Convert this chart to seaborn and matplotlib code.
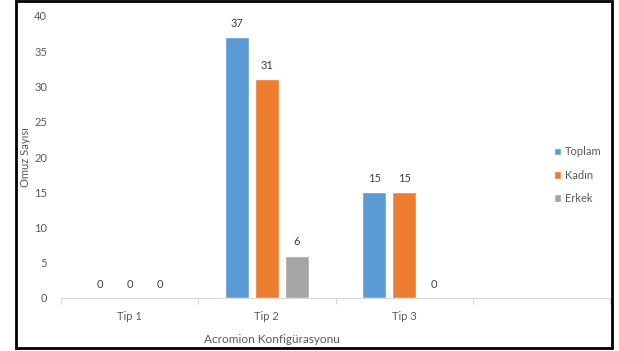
import matplotlib
matplotlib.use("Agg")
import matplotlib.pyplot as plt
import seaborn as sns
import pandas as pd
from matplotlib.patches import Rectangle
from matplotlib.ticker import FixedLocator

categories = ["Tip 1", "Tip 2", "Tip 3"]
series = ["Toplam", "Kadın", "Erkek"]
toplam = [0, 37, 15]
kadin = [0, 31, 15]
erkek = [0, 6, 0]
colors = ["#5B9BD5", "#ED7D31", "#A5A5A5"]

rows = []
for s, vals in zip(series, [toplam, kadin, erkek]):
    for c, v in zip(categories, vals):
        rows.append({"cat": c, "series": s, "value": v})
df = pd.DataFrame(rows)

sns.set_theme(style="white")
plt.rcParams["font.family"] = ["Lato", "DejaVu Sans"]
txt = "#595959"

fig = plt.figure(figsize=(6.19, 3.51), dpi=100)
ax = fig.add_axes([61/619, 1-298/351, (610-61)/619, (298-16)/351])

sns.barplot(data=df, x="cat", y="value", hue="series", order=categories,
            hue_order=series, palette=colors, width=0.655, gap=0.2,
            saturation=1, ax=ax, legend=True)

for cont in ax.containers:
    ax.bar_label(cont, padding=6, fontsize=8, color="#404040")

ax.set_xlim(-0.5, 3.5)
ax.set_ylim(0, 40)
ax.set_yticks(range(0, 41, 5))
ax.tick_params(axis="y", length=0, labelsize=8, labelcolor=txt, pad=10)
ax.set_xticks(range(len(categories)))
ax.set_xticklabels(categories)
ax.tick_params(axis="x", which="major", length=0, labelsize=8, labelcolor=txt, pad=9)
ax.xaxis.set_minor_locator(FixedLocator([-0.5, 0.5, 1.5, 2.5, 3.5]))
ax.tick_params(axis="x", which="minor", length=4, width=0.8, color="#D9D9D9", bottom=True)

for side in ["top", "right", "left"]:
    ax.spines[side].set_visible(False)
ax.spines["bottom"].set_color("#D9D9D9")
ax.spines["bottom"].set_linewidth(0.8)

ax.set_ylabel("Omuz Sayısı", fontsize=8, color=txt)
ax.yaxis.set_label_coords((31-61)/549, 0.5)
ax.set_xlabel("Acromion Konfigürasyonu", fontsize=8.5, color=txt)
ax.xaxis.set_label_coords((272-61)/549, (298-334)/282)

handles, labels = ax.get_legend_handles_labels()
ax.legend(handles, labels, loc="center left", bbox_to_anchor=(548/619, 1-175/351),
          bbox_transform=fig.transFigure, frameon=False, fontsize=8,
          handlelength=0.7, handleheight=0.7, handletextpad=0.3,
          labelspacing=1.1, labelcolor=txt, borderpad=0)

fig.patches.append(Rectangle((16/619, 1-348/351), (612-16)/619, (348-1)/351,
                             transform=fig.transFigure, fill=False,
                             edgecolor="black", linewidth=2, zorder=10))

fig.savefig("out.png", dpi=100)
